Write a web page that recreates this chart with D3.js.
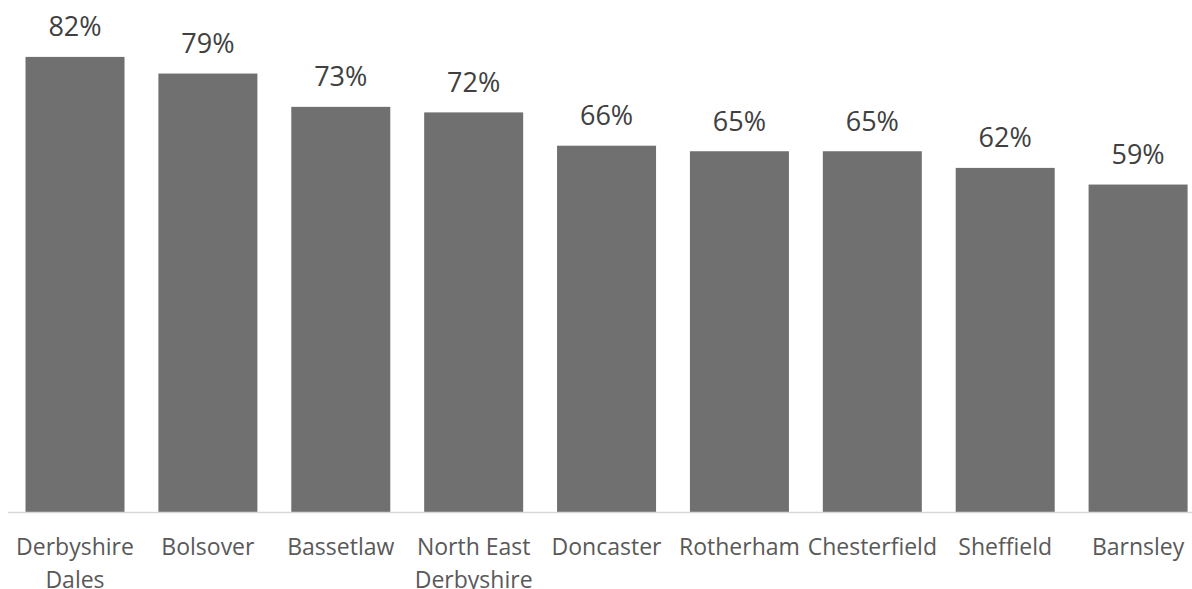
<!DOCTYPE html>
<html>
<head>
<meta charset="utf-8">
<script src="https://cdn.jsdelivr.net/npm/d3@7"></script>
<style>
  body { margin: 0; background: #fff; }
  svg { display: block; font-family: "Open Sans", sans-serif; }
</style>
</head>
<body>
<div id="chart"></div>
<script>
// Data
const areas = ['Derbyshire Dales', 'Bolsover', 'Bassetlaw', 'North East Derbyshire', 'Doncaster',
  'Rotherham', 'Chesterfield', 'Sheffield', 'Barnsley'];
const areaLines = [['Derbyshire', 'Dales'], ['Bolsover'], ['Bassetlaw'], ['North East', 'Derbyshire'],
  ['Doncaster'], ['Rotherham'], ['Chesterfield'], ['Sheffield'], ['Barnsley']];
const shares = [82, 79, 73, 72, 66, 65, 65, 62, 59];

const width = 1192, height = 589;
const baseY = 512;

const svg = d3.select('#chart').append('svg')
  .attr('width', width)
  .attr('height', height);

const x = d3.scaleBand()
  .domain(areas)
  .range([8.5, 8.5 + 9 * 132.9])
  .paddingInner(0.255)
  .paddingOuter(0.128);

// 5.55 px per percentage point
const y = d3.scaleLinear()
  .domain([0, 90])
  .range([baseY, baseY - 90 * 5.55]);

// bars
svg.selectAll('.bar')
  .data(shares)
  .join('rect')
  .attr('class', 'bar')
  .attr('x', (d, i) => x(areas[i]))
  .attr('y', d => y(d))
  .attr('width', x.bandwidth())
  .attr('height', d => baseY - y(d))
  .attr('fill', '#6f706f');

// baseline
svg.append('line')
  .attr('x1', 8)
  .attr('x2', width)
  .attr('y1', baseY + 0.5)
  .attr('y2', baseY + 0.5)
  .attr('stroke', '#d9d9d9')
  .attr('stroke-width', 1.5);

// value labels
svg.selectAll('.val')
  .data(shares)
  .join('text')
  .attr('class', 'val')
  .attr('x', (d, i) => x(areas[i]) + x.bandwidth() / 2)
  .attr('y', d => y(d) - 20.5)
  .attr('text-anchor', 'middle')
  .attr('font-size', 27)
  .attr('fill', '#404040')
  .text(d => d + '%');

// category labels
const cat = svg.selectAll('.cat')
  .data(areaLines)
  .join('text')
  .attr('class', 'cat')
  .attr('text-anchor', 'middle')
  .attr('font-size', 23)
  .attr('fill', '#595959');

cat.selectAll('tspan')
  .data((d, i) => d.map(s => ({ s, i })))
  .join('tspan')
  .attr('x', d => x(areas[d.i]) + x.bandwidth() / 2)
  .attr('y', (d, j) => 555 + j * 32.5)
  .text(d => d.s);
</script>
</body>
</html>
